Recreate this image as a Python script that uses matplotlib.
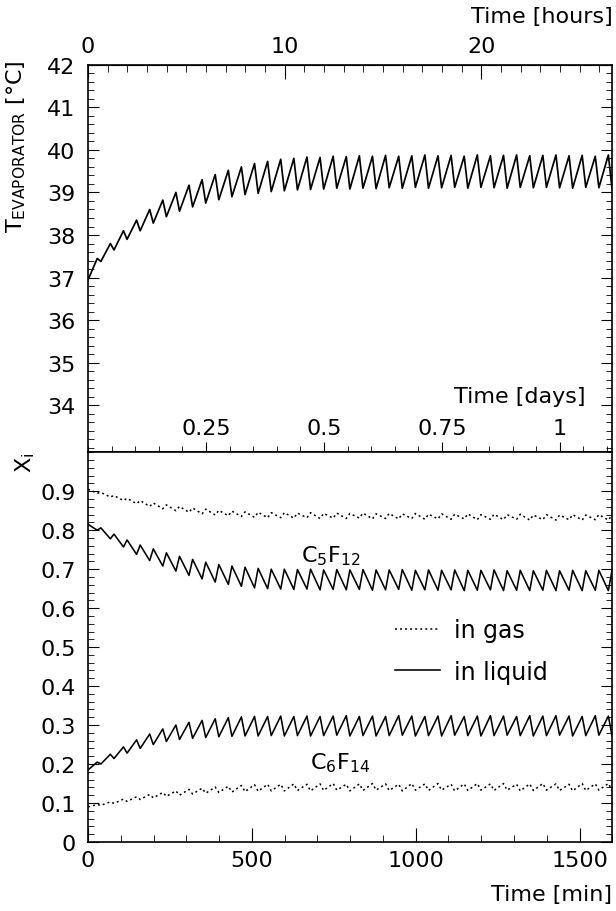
import matplotlib
matplotlib.use('Agg')
import matplotlib.pyplot as plt
import numpy as np
from matplotlib.ticker import MultipleLocator

plt.rcParams['font.family'] = ['DejaVu Sans']
plt.rcParams['font.size'] = 16
plt.rcParams['mathtext.default'] = 'regular'

# time axis [min]; refill events: value just before the jump and just after it
t_end = 1600
jump_t = [28, 68, 108, 148, 188, 228, 268, 308, 348, 388, 428, 468, 508, 548, 588, 628, 668, 708, 748, 788,
          828, 868, 908, 948, 988, 1028, 1068, 1108, 1148, 1188, 1228, 1268, 1308, 1348, 1388, 1428, 1468,
          1508, 1548, 1588]
settle_t = [39, 79, 119, 159, 199, 239, 279, 319, 359, 399, 439, 479, 519, 559, 599, 639, 679, 719, 759, 799,
            839, 879, 919, 959, 999, 1039, 1079, 1119, 1159, 1199, 1239, 1279, 1319, 1359, 1399, 1439, 1479,
            1519, 1559, 1599]

# evaporator temperature [C]
temp_start, temp_end = 36.95, 39.12
temp_before = [37.45, 37.80, 38.10, 38.35, 38.60, 38.82, 39.00, 39.17, 39.30, 39.42, 39.52, 39.60,
               39.68, 39.73, 39.78, 39.80, 39.83, 39.82, 39.85, 39.84, 39.86, 39.85, 39.87, 39.85,
               39.86, 39.88, 39.86, 39.87, 39.85, 39.88, 39.86, 39.87, 39.88, 39.86, 39.87, 39.88,
               39.86, 39.87, 39.85, 39.88]
temp_after = [37.38, 37.65, 37.90, 38.10, 38.28, 38.43, 38.56, 38.66, 38.75, 38.83, 38.90, 38.95,
              38.98, 39.02, 39.04, 39.06, 39.07, 39.08, 39.10, 39.08, 39.10, 39.09, 39.11, 39.10,
              39.12, 39.10, 39.11, 39.12, 39.10, 39.12, 39.11, 39.10, 39.12, 39.11, 39.12, 39.11,
              39.10, 39.12, 39.11, 39.10]

# C5F12 in liquid / gas
c5_liq_start, c5_liq_end = 0.815, 0.697
c5_liq_before = [0.800, 0.778, 0.757, 0.738, 0.722, 0.708, 0.695, 0.684, 0.675, 0.667, 0.661, 0.656,
                 0.652, 0.650, 0.649, 0.648, 0.649, 0.647, 0.648, 0.647, 0.648, 0.646, 0.647, 0.648,
                 0.646, 0.647, 0.646, 0.647, 0.645, 0.646, 0.647, 0.645, 0.646, 0.645, 0.646, 0.645,
                 0.646, 0.645, 0.646, 0.645]
c5_liq_after = [0.806, 0.790, 0.775, 0.762, 0.752, 0.742, 0.733, 0.725, 0.718, 0.712, 0.708, 0.705,
                0.702, 0.700, 0.700, 0.699, 0.700, 0.698, 0.699, 0.698, 0.699, 0.698, 0.698, 0.699,
                0.697, 0.698, 0.697, 0.698, 0.697, 0.697, 0.698, 0.696, 0.697, 0.696, 0.697, 0.696,
                0.697, 0.696, 0.697, 0.696]
c5_gas_start, c5_gas_end = 0.905, 0.839
c5_gas_before = [0.895, 0.885, 0.876, 0.868, 0.861, 0.855, 0.850, 0.846, 0.842, 0.839, 0.837, 0.835,
                 0.833, 0.832, 0.832, 0.831, 0.832, 0.830, 0.831, 0.830, 0.831, 0.829, 0.830, 0.829,
                 0.830, 0.828, 0.829, 0.828, 0.829, 0.827, 0.828, 0.827, 0.828, 0.826, 0.827, 0.826,
                 0.827, 0.826, 0.827, 0.826]
c5_gas_after = [0.897, 0.889, 0.882, 0.876, 0.870, 0.865, 0.861, 0.857, 0.854, 0.851, 0.849, 0.847,
                0.846, 0.845, 0.845, 0.844, 0.845, 0.843, 0.844, 0.843, 0.844, 0.842, 0.843, 0.842,
                0.843, 0.841, 0.842, 0.841, 0.842, 0.840, 0.841, 0.840, 0.841, 0.839, 0.840, 0.839,
                0.840, 0.839, 0.840, 0.839]

# C6F14 in liquid / gas
c6_liq_start, c6_liq_end = 0.185, 0.273
c6_liq_before = [0.205, 0.225, 0.244, 0.262, 0.277, 0.290, 0.300, 0.307, 0.312, 0.316, 0.319, 0.321,
                 0.322, 0.322, 0.323, 0.322, 0.323, 0.322, 0.323, 0.324, 0.322, 0.323, 0.322, 0.324,
                 0.323, 0.322, 0.323, 0.324, 0.322, 0.323, 0.324, 0.323, 0.322, 0.324, 0.323, 0.324,
                 0.323, 0.322, 0.324, 0.323]
c6_liq_after = [0.200, 0.214, 0.228, 0.240, 0.250, 0.258, 0.263, 0.266, 0.268, 0.270, 0.271, 0.272,
                0.272, 0.273, 0.272, 0.273, 0.272, 0.273, 0.274, 0.272, 0.273, 0.272, 0.273, 0.274,
                0.272, 0.273, 0.272, 0.274, 0.273, 0.272, 0.273, 0.274, 0.273, 0.272, 0.273, 0.274,
                0.272, 0.273, 0.274, 0.273]
c6_gas_start, c6_gas_end = 0.090, 0.132
c6_gas_before = [0.096, 0.103, 0.110, 0.116, 0.122, 0.127, 0.131, 0.135, 0.138, 0.141, 0.143, 0.145,
                 0.147, 0.148, 0.148, 0.149, 0.148, 0.149, 0.150, 0.148, 0.149, 0.150, 0.149, 0.148,
                 0.150, 0.149, 0.150, 0.148, 0.149, 0.150, 0.149, 0.150, 0.148, 0.149, 0.150, 0.149,
                 0.148, 0.150, 0.149, 0.150]
c6_gas_after = [0.094, 0.099, 0.104, 0.109, 0.113, 0.117, 0.120, 0.123, 0.125, 0.127, 0.128, 0.129,
                0.130, 0.131, 0.131, 0.132, 0.131, 0.132, 0.133, 0.131, 0.132, 0.133, 0.132, 0.131,
                0.133, 0.132, 0.133, 0.131, 0.132, 0.133, 0.132, 0.133, 0.131, 0.132, 0.133, 0.132,
                0.131, 0.132, 0.133, 0.132]

temp_ticks = [34, 35, 36, 37, 38, 39, 40, 41, 42]
x_ticks = [0, 0.1, 0.2, 0.3, 0.4, 0.5, 0.6, 0.7, 0.8, 0.9]
x_labels = ['0', '0.1', '0.2', '0.3', '0.4', '0.5', '0.6', '0.7', '0.8', '0.9']
min_ticks = [0, 500, 1000, 1500]
hour_ticks = [0, 10, 20]
day_ticks = [0.25, 0.5, 0.75, 1]
day_labels = ['0.25', '0.5', '0.75', '1']


def vertices(start, before, after, end):
    t = np.concatenate([[0], np.column_stack([jump_t, settle_t]).ravel(), [t_end]])
    v = np.concatenate([[start], np.column_stack([before, after]).ravel(), [end]])
    return t, v


fig = plt.figure(figsize=(6.16, 9.12), dpi=100)
ax1 = fig.add_axes([0.143, 0.503, 0.851, 0.425])
ax2 = fig.add_axes([0.143, 0.0757, 0.851, 0.4273])

gas_ls = (0, (1.3, 2.0))

# --- top: evaporator temperature
ax1.plot(*vertices(temp_start, temp_before, temp_after, temp_end), color='k', lw=1.25)
ax1.set_xlim(0, t_end)
ax1.set_ylim(32.9, 42)
ax1.set_yticks(temp_ticks)
ax1.yaxis.set_minor_locator(MultipleLocator(0.2))
ax1.tick_params(axis='x', which='both', bottom=False, top=False, labelbottom=False)
ax1.tick_params(axis='y', which='both', direction='in', left=True, right=True, pad=9)
ax1.tick_params(axis='y', which='major', length=8)
ax1.tick_params(axis='y', which='minor', length=4)
ax1.set_ylabel(r'T$_{EVAPORATOR}$ [°C]')
ax1.yaxis.set_label_coords(-0.115, 0.79)

sec_h = ax1.secondary_xaxis('top', functions=(lambda m: m / 60, lambda h: h * 60))
sec_h.set_xticks(hour_ticks)
sec_h.xaxis.set_minor_locator(MultipleLocator(1))
sec_h.tick_params(which='both', direction='in', pad=6)
sec_h.tick_params(which='major', length=10)
sec_h.tick_params(which='minor', length=5)
sec_h.set_xlabel('Time [hours]', loc='right', labelpad=10)

sec_d = ax1.secondary_xaxis('bottom', functions=(lambda m: m / 1440, lambda d: d * 1440))
sec_d.set_xticks(day_ticks, day_labels)
sec_d.xaxis.set_minor_locator(MultipleLocator(0.05))
sec_d.tick_params(which='both', direction='inout', pad=-32)
sec_d.tick_params(which='major', length=14)
sec_d.tick_params(which='minor', length=8)
ax1.text(0.948, 0.145, 'Time [days]', transform=ax1.transAxes, ha='right', va='center')

# --- bottom: composition
ax2.plot(*vertices(c5_gas_start, c5_gas_before, c5_gas_after, c5_gas_end), color='k', lw=1.1,
         ls=gas_ls, label='in gas')
ax2.plot(*vertices(c5_liq_start, c5_liq_before, c5_liq_after, c5_liq_end), color='k', lw=1.15,
         label='in liquid')
ax2.plot(*vertices(c6_gas_start, c6_gas_before, c6_gas_after, c6_gas_end), color='k', lw=1.1,
         ls=gas_ls)
ax2.plot(*vertices(c6_liq_start, c6_liq_before, c6_liq_after, c6_liq_end), color='k', lw=1.15)
ax2.set_xlim(0, t_end)
ax2.set_ylim(0, 1.0)
ax2.set_xticks(min_ticks)
ax2.xaxis.set_minor_locator(MultipleLocator(100))
ax2.set_yticks(x_ticks, x_labels)
ax2.yaxis.set_minor_locator(MultipleLocator(0.02))
ax2.tick_params(which='both', direction='in', top=False, right=True)
ax2.tick_params(axis='x', which='major', length=10, pad=6)
ax2.tick_params(axis='x', which='minor', length=5)
ax2.tick_params(axis='y', which='major', length=8, pad=9)
ax2.tick_params(axis='y', which='minor', length=4)
ax2.set_xlabel('Time [min]', loc='right', labelpad=10)
ax2.text(-0.12, 0.975, r'X$_i$', transform=ax2.transAxes, rotation=90, ha='center', va='center')
ax2.text(740, 0.735, r'C$_5$F$_{12}$', ha='center', va='center')
ax2.text(770, 0.205, r'C$_6$F$_{14}$', ha='center', va='center')
ax2.legend(loc='upper left', bbox_to_anchor=(0.585, 0.575), frameon=False, handlelength=1.9,
           handletextpad=0.6, labelspacing=0.75, borderpad=0, borderaxespad=0, fontsize=17)

for ax in (ax1, ax2):
    for sp in ax.spines.values():
        sp.set_linewidth(1.2)

fig.savefig('out.png', dpi=100)
